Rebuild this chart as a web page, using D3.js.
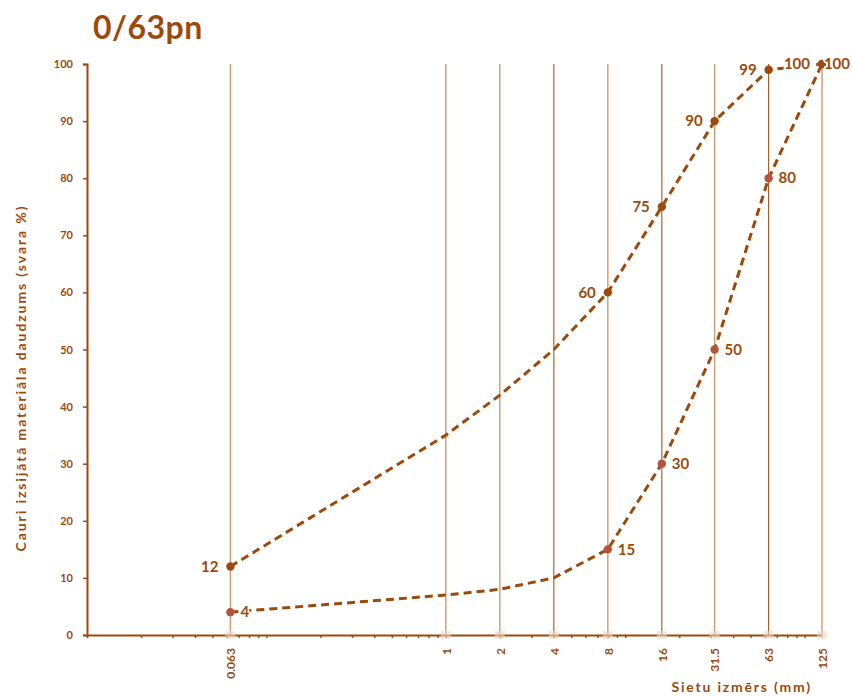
<!DOCTYPE html>
<html><head><meta charset="utf-8">
<script src="https://cdn.jsdelivr.net/npm/d3@7"></script>
<style>
body{margin:0;background:#fff;}
text{font-family:Lato,"Open Sans",sans-serif;font-weight:bold;fill:#9c4a0c;}
</style></head>
<body><svg id="c" width="852" height="697"></svg>
<script>
const sieves = [0.063, 1, 2, 4, 8, 16, 31.5, 63, 125];
const sieveLabels = ["0.063","1","2","4","8","16","31.5","63","125"];
const upper = [12, 35, 42, 50, 60, 75, 90, 99, 100];
const lower = [4, 7, 8, 10, 15, 30, 50, 80, 100];
const upperLabeled = [true,false,false,false,true,true,true,true,true];
const lowerLabeled = [true,false,false,false,true,true,true,true,true];
const darkGrid = [4, 16, 63];
const yTicks = [0,10,20,30,40,50,60,70,80,90,100];
const title = "0/63pn";
const xTitle = "Sietu izmērs (mm)";
const yTitle = "Cauri izsijātā materiāla daudzums (svara %)";

const C = "#9c4a0c";
const svg = d3.select("#c");
const x = d3.scaleLog().domain([0.01,125]).range([87,822]);
const y = d3.scaleLinear().domain([0,100]).range([635,64]);

svg.append("text").attr("x",93).attr("y",39).style("font-size","32px").style("letter-spacing","0.5px").text(title);

// gridlines
svg.append("g").selectAll("line").data(sieves).join("line")
  .attr("x1",d=>x(d)).attr("x2",d=>x(d)).attr("y1",y(100)).attr("y2",y(0))
  .attr("stroke",d=>darkGrid.includes(d)?"#a3571c":"#cc9a72").attr("stroke-width",d=>darkGrid.includes(d)?1.1:1.4);

// minor x ticks
const minor = x.ticks().filter(d=>d<=100);
svg.append("g").attr("transform",`translate(0,${y(0)})`)
  .call(d3.axisBottom(x).tickValues(minor).tickFormat("").tickSize(3).tickSizeOuter(0))
  .call(g=>{g.select(".domain").attr("stroke",C).attr("stroke-width",2);g.selectAll(".tick line").attr("stroke",C).attr("stroke-width",1.5);});

// glow marks at sieve positions
svg.append("g").selectAll("rect").data(sieves).join("rect")
  .attr("x",d=>x(d)-5).attr("y",y(0)-4).attr("width",10).attr("height",8)
  .attr("fill","#e8d8c8").attr("opacity",0.6);

// x labels
const xl = svg.append("g").attr("transform",`translate(0,${y(0)})`)
  .call(d3.axisBottom(x).tickValues(sieves).tickFormat((d,i)=>sieveLabels[i]).tickSize(0).tickPadding(0));
xl.select(".domain").remove();
xl.selectAll(".tick text").attr("transform","rotate(-90)").attr("text-anchor","end")
  .attr("x",-13).attr("y",0).attr("dy","0.35em").style("font-size","12px").attr("fill",C);

// y axis
const ya = svg.append("g").attr("transform","translate(87,0)")
  .call(d3.axisLeft(y).tickValues(yTicks).tickSize(4).tickSizeOuter(4).tickPadding(10));
ya.select(".domain").attr("stroke",C).attr("stroke-width",2);
ya.selectAll(".tick line").attr("stroke",C).attr("stroke-width",1.5);
ya.selectAll(".tick text").style("font-size","11px").attr("fill",C);

// titles
svg.append("text").attr("x",812).attr("y",692).attr("text-anchor","end")
  .style("font-size","14px").style("letter-spacing","1.8px").text(xTitle);
svg.append("text").attr("transform","translate(26,378) rotate(-90)").attr("text-anchor","middle")
  .style("font-size","14px").style("letter-spacing","1.9px").text(yTitle);

const line = d3.line().x((d,i)=>x(sieves[i])).y(d=>y(d));
[upper, lower].forEach(s=>{
  svg.append("path").attr("d",line(s)).attr("fill","none").attr("stroke",C)
    .attr("stroke-width",3).attr("stroke-dasharray","8,5");
});

// markers
svg.append("g").selectAll("circle").data(lower.map((v,i)=>[sieves[i],v,lowerLabeled[i]]).filter(d=>d[2])).join("circle")
  .attr("cx",d=>x(d[0])).attr("cy",d=>y(d[1])).attr("r",4.2).attr("fill","#b5533c");
svg.append("g").selectAll("circle").data(upper.map((v,i)=>[sieves[i],v,upperLabeled[i]]).filter(d=>d[2])).join("circle")
  .attr("cx",d=>x(d[0])).attr("cy",d=>y(d[1])).attr("r",4.2).attr("fill",C);

// labels
svg.append("g").selectAll("text").data(upper.map((v,i)=>[sieves[i],v,upperLabeled[i]]).filter(d=>d[2])).join("text")
  .attr("x",d=>x(d[0])-12).attr("y",d=>y(d[1])).attr("dy","0.35em").attr("text-anchor","end")
  .style("font-size","15px").style("paint-order","stroke").attr("stroke","#fff").attr("stroke-width",4).text(d=>d[1]);
svg.append("g").selectAll("text").data(lower.map((v,i)=>[sieves[i],v,lowerLabeled[i]]).filter(d=>d[2])).join("text")
  .attr("x",d=>x(d[0])+10).attr("y",d=>y(d[1])).attr("dy","0.35em").attr("text-anchor","start")
  .style("font-size","15px").style("paint-order","stroke").attr("stroke","#fff").attr("stroke-width",3).text(d=>d[1])
  .each(function(d){
    const w=this.getComputedTextLength();
    if(x(d[0])+10+w>850){d3.select(this).attr("x",850).attr("text-anchor","end");}
  });
</script></body></html>
